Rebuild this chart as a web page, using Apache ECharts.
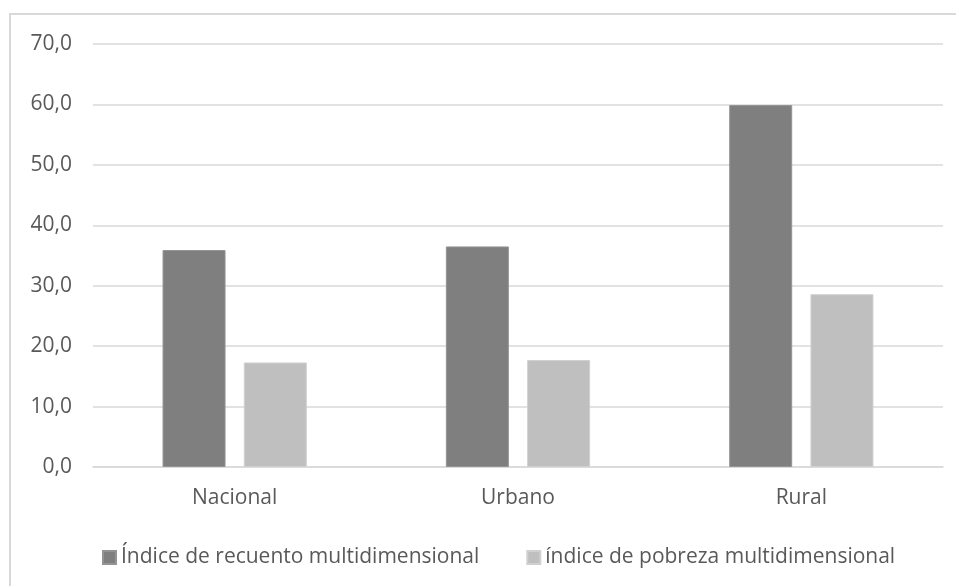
<!DOCTYPE html>
<html>
<head>
<meta charset="utf-8">
<script src="https://cdn.jsdelivr.net/npm/echarts@6/dist/echarts.min.js"></script>
<style>html,body{margin:0;padding:0;background:#fff}#c{width:956px;height:586px}</style>
</head>
<body>
<div id="c"></div>
<script>
const categories = ['Nacional', 'Urbano', 'Rural'];
const seriesNames = ['Índice de recuento multidimensional', 'índice de pobreza multidimensional'];
const recuento = [35.9, 36.5, 59.9];
const pobreza = [17.3, 17.7, 28.6];
const yTicks = { min: 0, max: 70, interval: 10 };

const chart = echarts.init(document.getElementById('c'));
const font = '"Open Sans", "Noto Sans", sans-serif';
chart.setOption({
  animation: false,
  backgroundColor: '#fff',
  graphic: [{
    type: 'rect', silent: true,
    shape: { x: 10, y: 14, width: 1000, height: 1000 },
    style: { fill: 'none', stroke: '#d9d9d9', lineWidth: 2 }
  }],
  grid: { left: 93, right: 13, top: 44, bottom: 119, containLabel: false },
  legend: {
    left: 97, top: 542,
    icon: 'rect', itemWidth: 13, itemHeight: 13, itemGap: 47, itemTextGap: 4,
    textStyle: { fontFamily: font, fontSize: 21, color: '#595959' },
    data: seriesNames
  },
  xAxis: {
    type: 'category', data: categories,
    axisLine: { lineStyle: { color: '#d9d9d9', width: 1.5 } },
    axisTick: { show: false },
    axisLabel: { margin: 21, fontFamily: font, fontSize: 21, color: '#595959' }
  },
  yAxis: {
    type: 'value', min: yTicks.min, max: yTicks.max, interval: yTicks.interval,
    axisLine: { show: false }, axisTick: { show: false },
    splitLine: { lineStyle: { color: '#d9d9d9', width: 1.5 } },
    axisLabel: { margin: 21, fontFamily: font, fontSize: 21, color: '#595959',
      formatter: v => v.toFixed(1).replace('.', ',') }
  },
  series: [
    { name: seriesNames[0], type: 'bar', data: recuento, barWidth: 63, barGap: '29%',
      itemStyle: { color: '#7f7f7f', borderColor: '#949494', borderWidth: 1 } },
    { name: seriesNames[1], type: 'bar', data: pobreza, barWidth: 63,
      itemStyle: { color: '#bfbfbf', borderColor: '#d0d0d0', borderWidth: 1 } }
  ]
});
</script>
</body>
</html>
